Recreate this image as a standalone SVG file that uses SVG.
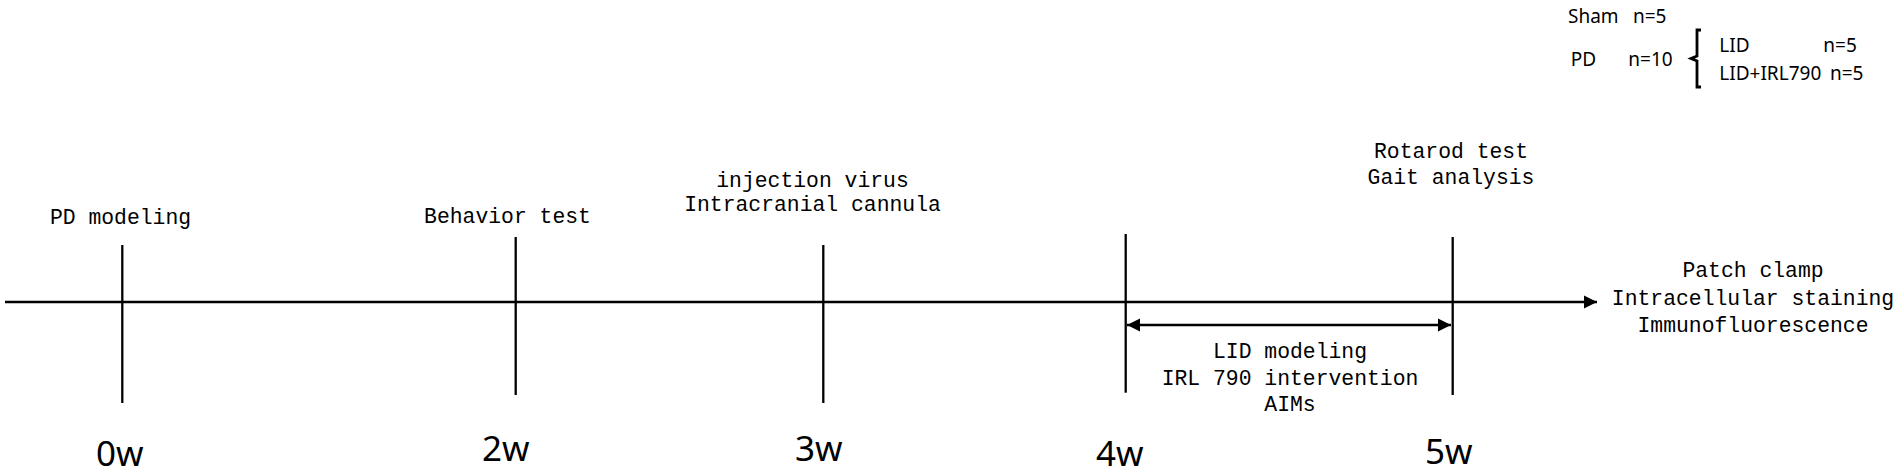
<svg xmlns="http://www.w3.org/2000/svg" width="1902" height="475" viewBox="0 0 1902 475">
<style>
.ln{stroke:#000;stroke-width:2.3;fill:none}
.mono{font-family:"Liberation Mono",monospace;font-size:21.4px;fill:#000;text-anchor:middle}
.wk{font-family:"Noto Sans","Liberation Sans",sans-serif;font-size:35px;fill:#000}
.grp{font-family:"Noto Sans","Liberation Sans",sans-serif;font-size:19px;fill:#000}
</style>
<defs>
<marker id="ah" markerWidth="14" markerHeight="14" refX="13" refY="7" orient="auto-start-reverse" markerUnits="userSpaceOnUse">
<path d="M0,0.5 L13,7 L0,13.5 Z" fill="#000"/>
</marker>
</defs>
<rect width="1902" height="475" fill="#fff"/>
<g id="connectors">
<line class="ln" x1="5" y1="302" x2="1597" y2="302" marker-end="url(#ah)"/>
<line class="ln" x1="1127" y1="325" x2="1451" y2="325" marker-start="url(#ah)" marker-end="url(#ah)"/>
</g>
<g id="tick-0w">
<line class="ln" x1="122.3" y1="245" x2="122.3" y2="403"/>
<text class="mono" x="120.5" y="224">PD modeling</text>
<text class="wk" x="96" y="466">0w</text>
</g>
<g id="tick-2w">
<line class="ln" x1="515.7" y1="237" x2="515.7" y2="395"/>
<text class="mono" x="507.5" y="223">Behavior test</text>
<text class="wk" x="482" y="461">2w</text>
</g>
<g id="tick-3w">
<line class="ln" x1="823.3" y1="245" x2="823.3" y2="403"/>
<text class="mono" x="812.5" y="187">injection virus</text>
<text class="mono" x="812.5" y="211">Intracranial cannula</text>
<text class="wk" x="795" y="461">3w</text>
</g>
<g id="tick-4w">
<line class="ln" x1="1125.7" y1="234" x2="1125.7" y2="392.7"/>
<text class="wk" x="1096" y="466">4w</text>
</g>
<g id="tick-5w">
<line class="ln" x1="1452.7" y1="237" x2="1452.7" y2="395"/>
<text class="mono" x="1451" y="158">Rotarod test</text>
<text class="mono" x="1451" y="184">Gait analysis</text>
<text class="wk" x="1425" y="464">5w</text>
</g>
<g id="lid-period">
<text class="mono" x="1290" y="358">LID modeling</text>
<text class="mono" x="1290" y="385">IRL 790 intervention</text>
<text class="mono" x="1290" y="411">AIMs</text>
</g>
<g id="endpoint">
<text class="mono" x="1753" y="277">Patch clamp</text>
<text class="mono" x="1753" y="305">Intracellular staining</text>
<text class="mono" x="1753" y="332">Immunofluorescence</text>
</g>
<g id="groups">
<text class="grp" y="22.7"><tspan x="1568">Sham</tspan><tspan x="1633">n=5</tspan></text>
<text class="grp" y="66"><tspan x="1570.7">PD</tspan><tspan x="1628.3">n=10</tspan></text>
<path d="M1701,30 L1697,30 L1697,56 L1691,58.5 L1697,61 L1697,87 L1701,87" stroke="#000" stroke-width="2.8" fill="none"/>
<text class="grp" y="52.3"><tspan x="1719.3">LID</tspan><tspan x="1823.3">n=5</tspan></text>
<text class="grp" y="80"><tspan x="1719.3">LID+IRL790</tspan><tspan x="1830">n=5</tspan></text>
</g>
</svg>
